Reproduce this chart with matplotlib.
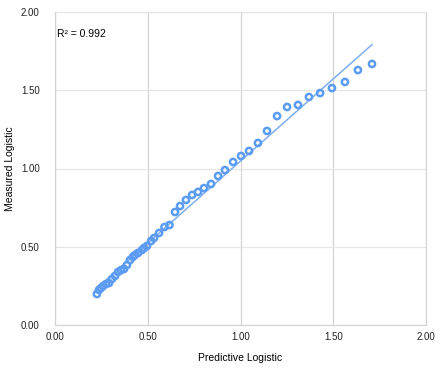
import numpy as np
import matplotlib
matplotlib.use("Agg")
import matplotlib.pyplot as plt

# values
predictive = [0.226, 0.237, 0.248, 0.259, 0.275, 0.291, 0.307, 0.323, 0.340, 0.356,
              0.372, 0.388, 0.404, 0.420, 0.431, 0.447, 0.469, 0.480, 0.496, 0.518,
              0.534, 0.561, 0.590, 0.617, 0.647, 0.674, 0.706, 0.739, 0.771, 0.803,
              0.841, 0.879, 0.916, 0.960, 1.003, 1.046, 1.094, 1.143, 1.197, 1.251,
              1.310, 1.369, 1.429, 1.493, 1.563, 1.633, 1.709]
measured = [0.198, 0.224, 0.236, 0.249, 0.262, 0.268, 0.294, 0.313, 0.339, 0.351,
            0.358, 0.383, 0.415, 0.435, 0.447, 0.460, 0.479, 0.492, 0.505, 0.537,
            0.556, 0.588, 0.626, 0.639, 0.722, 0.760, 0.799, 0.831, 0.850, 0.875,
            0.901, 0.952, 0.990, 1.042, 1.080, 1.112, 1.163, 1.240, 1.335, 1.393,
            1.406, 1.457, 1.482, 1.514, 1.553, 1.629, 1.668]
ticks = [0.0, 0.5, 1.0, 1.5, 2.0]
r2_label = "R² = 0.992"

plt.rcParams['font.family'] = ['Liberation Sans', 'DejaVu Sans']

x = np.array(predictive)
y = np.array(measured)

fig = plt.figure(figsize=(4.41, 3.72), dpi=100)
ax = fig.add_axes([55 / 441, 47 / 372, 371 / 441, 313 / 372])

# trend line
slope, intercept = np.polyfit(x, y, 1)
xl = np.array([x.min(), x.max()])
ax.plot(xl, slope * xl + intercept, color="#7eaef0", lw=1.1, zorder=2)

ax.scatter(x, y, s=20, facecolors="none", edgecolors="#5b9cf2", linewidths=1.8, zorder=3)

ax.text(0.01, 1.86, r2_label, fontsize=7.5, va="center", ha="left")

ax.set_xlim(0, 2)
ax.set_ylim(0, 2)
ax.set_xticks(ticks)
ax.set_yticks(ticks)
ax.set_xticklabels([f"{t:.2f}" for t in ticks])
ax.set_yticklabels([f"{t:.2f}" for t in ticks])
ax.tick_params(length=0, labelsize=7, colors="#222222")
ax.tick_params(axis="x", pad=5)
ax.tick_params(axis="y", pad=11)

ax.xaxis.grid(True, color="#d4d4d4", lw=0.9)
ax.yaxis.grid(True, color="#e6e6e6", lw=0.9)
ax.set_axisbelow(True)
for side in ["left", "bottom"]:
    ax.spines[side].set_color("#d4d4d4")
    ax.spines[side].set_linewidth(0.9)
ax.spines["top"].set_color("#e6e6e6")
ax.spines["right"].set_color("#d4d4d4")

ax.set_xlabel("Predictive Logistic", fontsize=7.5)
ax.set_ylabel("Measured Logistic", fontsize=7.5)
ax.xaxis.set_label_coords(0.5, -0.089)
ax.yaxis.set_label_coords(-0.108, 0.5)

fig.savefig("out.png", dpi=100)
